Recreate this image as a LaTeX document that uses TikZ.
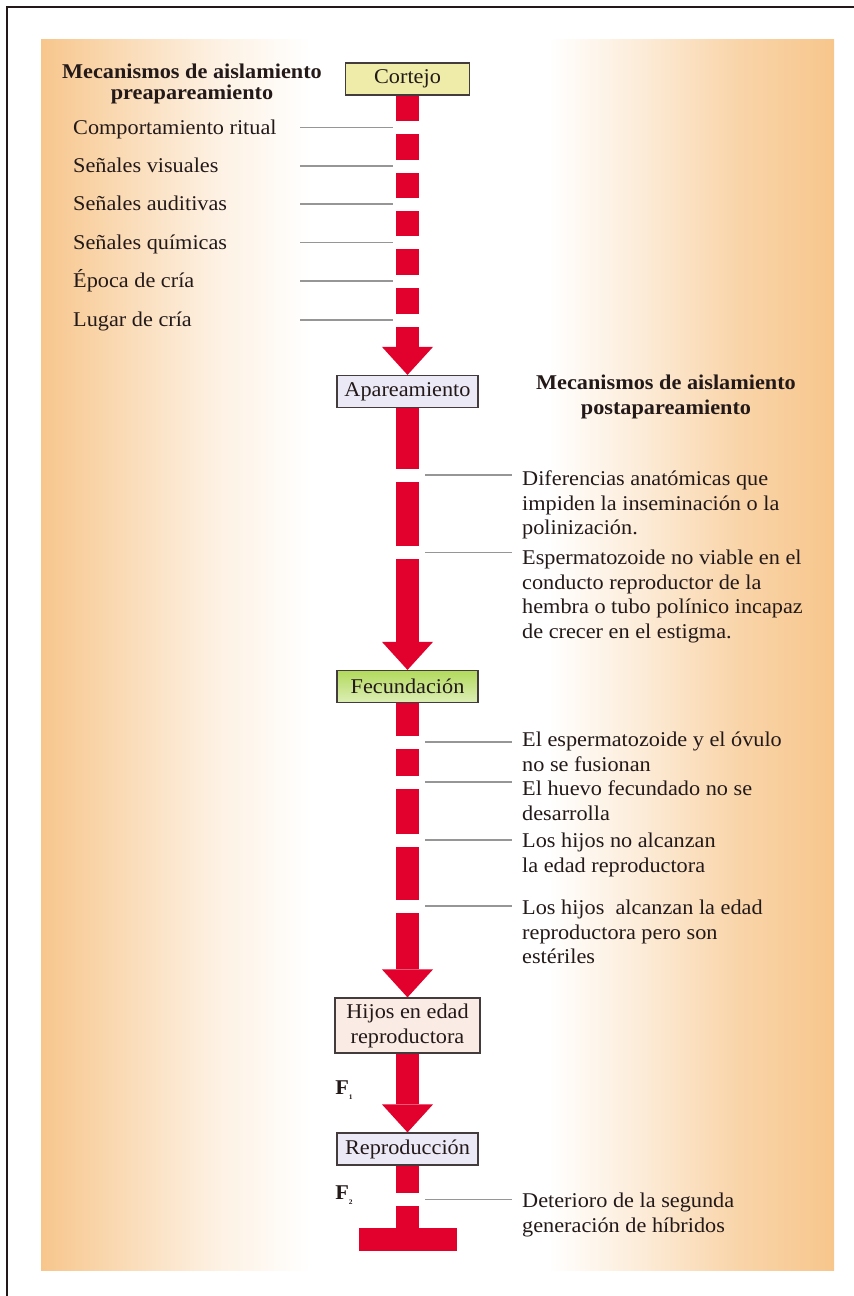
\documentclass[tikz,border=0pt]{standalone}
\usepackage{fontspec}
\setmainfont{Liberation Serif}[FakeStretch=1.06]
\usetikzlibrary{
  arrows.meta,
  positioning,
  calc,
  backgrounds
}
\definecolor{aisRed}{RGB}{226,0,45}
\definecolor{aisPeach}{RGB}{247,198,140}
\definecolor{aisInk}{RGB}{35,25,25}
\definecolor{aisLead}{RGB}{150,150,150}
\definecolor{aisYellow}{RGB}{238,236,168}
\definecolor{aisGreen}{RGB}{178,218,92}
\definecolor{aisLilac}{RGB}{236,233,246}
\definecolor{aisRose}{RGB}{250,236,228}
\pgfdeclarehorizontalshading{aispanel}{100bp}{
  color(0bp)=(aisPeach); color(25bp)=(aisPeach); color(30bp)=(aisPeach!65);
  color(36bp)=(aisPeach!25); color(42bp)=(white); color(57bp)=(white);
  color(63bp)=(aisPeach!35); color(69bp)=(aisPeach!75); color(75bp)=(aisPeach);
  color(100bp)=(aisPeach)}
\tikzset{
  stagebox/.style={
    draw=aisInk!85,
    line width=1.2pt,
    minimum width=141pt,
    minimum height=32pt,
    inner sep=2pt,
    align=center,
    text=aisInk,
    font=\fontsize{21}{25}\selectfont
  },
  flow/.style={
    draw=aisRed,
    line width=23pt,
    -{Triangle[width=51pt,length=28pt,line width=0pt]}
  },
  stopflow/.style={
    draw=aisRed,
    line width=23pt
  },
  stopbar/.style={
    fill=aisRed,
    minimum width=98pt,
    minimum height=23pt,
    inner sep=0pt
  },
  leader/.style={
    draw=aisLead,
    line width=1.1pt
  },
  gapfill/.style={
    fill=white
  },
  prelabel/.style={
    anchor=west,
    inner sep=0pt,
    text height=15pt,
    text depth=2pt,
    text=aisInk,
    font=\fontsize{21}{25}\selectfont
  },
  postlabel/.style={
    anchor=north west,
    align=left,
    inner sep=0pt,
    text=aisInk,
    execute at begin node=\strut,
    font=\fontsize{21}{24.5}\selectfont
  },
  headtxt/.style={
    align=center,
    inner sep=0pt,
    text=aisInk,
    font=\fontsize{21}{#1}\selectfont\bfseries
  },
  flabel/.style={
    inner sep=0pt,
    text=aisInk,
    font=\fontsize{21}{25}\selectfont\bfseries
  }
}

\begin{document}
\begin{tikzpicture}[x=1pt,y=1pt]
  \useasboundingbox (0,0) rectangle (854,-1296);

  \coordinate (ltext) at (73,0);
  \coordinate (lstart) at (300,0);
  \coordinate (rtext) at (522,0);
  \coordinate (rend) at (512,0);

  \node[stagebox, fill=aisYellow, minimum width=124pt] (cortejo) at (407.5,-79) {Cortejo};
  \node[stagebox, fill=aisLilac] (apareo) at (407.5,-391.5) {Apareamiento};
  \node[stagebox, top color=aisGreen, bottom color=aisGreen!45!white] (fecund) at (407.5,-686.5) {Fecundación};
  \node[stagebox, fill=aisRose, minimum width=145pt, minimum height=55pt] (hijos) at (407.5,-1025.5) {Hijos en edad\\reproductora};
  \node[stagebox, fill=aisLilac] (reprod) at (407.5,-1149) {Reproducción};
  \node[stopbar] (tope) at (407.5,-1239.5) {};

  \begin{scope}[on background layer]
    \draw[line width=2pt, aisInk] (7,-1296) -- (7,-7) -- (854,-7);
    \shade[shading=aispanel] (41,-39) rectangle (834,-1270);
  \end{scope}

  \draw[flow] (cortejo) -- (apareo);
  \draw[flow] (apareo) -- (fecund);
  \draw[flow] (fecund) -- (hijos);
  \draw[flow] (hijos) -- (reprod);
  \draw[stopflow] (reprod) -- (tope);

  \foreach \n/\y in {1/127.5,2/166,3/204,4/242.5,5/281,6/320}
    \coordinate (pg\n) at (407.5,-\y);
  \foreach \n/\y in {1/475,2/552.5,3/742,4/782,5/840,6/906,7/1199.5}
    \coordinate (qg\n) at (407.5,-\y);

  \foreach \g in {pg1,pg2,pg3,pg4,pg5,pg6,qg1,qg2,qg3,qg4,qg5,qg6,qg7}
    \fill[gapfill] ([shift={(-13pt,-6.5pt)}]\g) rectangle ([shift={(13pt,6.5pt)}]\g);

  \node[headtxt=21] (prehead) at (192,-84) {Mecanismos de aislamiento\\preapareamiento};
  \node[headtxt=25] (posthead) at (666,-397) {Mecanismos de aislamiento\\postapareamiento};

  \foreach \n/\txt in {1/Comportamiento ritual,2/Señales visuales,3/Señales auditivas,
                       4/Señales químicas,5/Época de cría,6/Lugar de cría} {
    \node[prelabel] (pre\n) at (pg\n -| ltext) {\txt};
    \draw[leader] (pg\n -| lstart) -- ([xshift=-14.5pt]pg\n);
  }

  \node[postlabel] (post1) at ([yshift=4pt]qg1 -| rtext)
    {Diferencias anatómicas que\\impiden la inseminación o la\\polinización.};
  \node[postlabel] (post2) at ([yshift=2.5pt]qg2 -| rtext)
    {Espermatozoide no viable en el\\conducto reproductor de la\\hembra o tubo polínico incapaz\\de crecer en el estigma.};
  \node[postlabel] (post3) at ([yshift=10pt]qg3 -| rtext)
    {El espermatozoide y el óvulo\\no se fusionan};
  \node[postlabel] (post4) at ([yshift=1pt]qg4 -| rtext)
    {El huevo fecundado no se\\desarrolla};
  \node[postlabel] (post5) at ([yshift=7pt]qg5 -| rtext)
    {Los hijos no alcanzan\\la edad reproductora};
  \node[postlabel] (post6) at ([yshift=6pt]qg6 -| rtext)
    {Los hijos\ \ alcanzan la edad\\reproductora pero son\\estériles};
  \node[postlabel] (post7) at ([yshift=6.5pt]qg7 -| rtext)
    {Deterioro de la segunda\\generación de híbridos};

  \foreach \g in {qg1,qg2,qg3,qg4,qg5,qg6,qg7}
    \draw[leader] ([xshift=17.5pt]\g) -- (\g -| rend);

  \node[flabel] (fone) at (344,-1090) {F\raisebox{-5pt}{\fontsize{7}{7}\selectfont 1}};
  \node[flabel] (ftwo) at (344,-1195) {F\raisebox{-5pt}{\fontsize{7}{7}\selectfont 2}};
\end{tikzpicture}
\end{document}
